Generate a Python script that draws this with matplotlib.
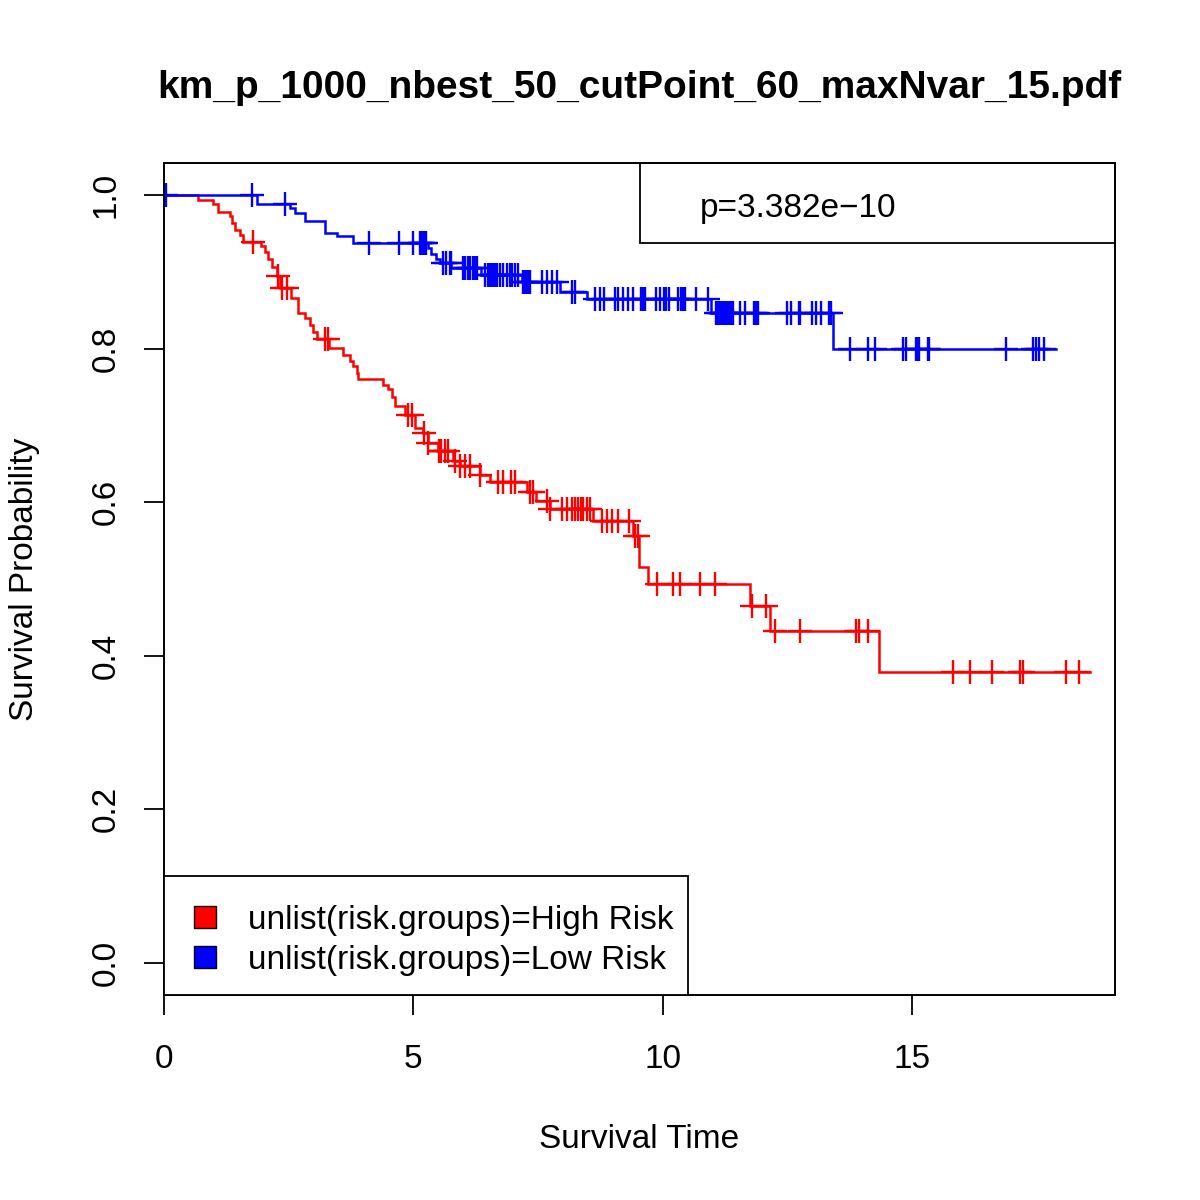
import numpy as np
import matplotlib
matplotlib.use("Agg")
import matplotlib.pyplot as plt
from matplotlib.patches import Rectangle

plt.rcParams['font.family'] = ['Liberation Sans', 'DejaVu Sans']

# ---------------- data ----------------
title = "km_p_1000_nbest_50_cutPoint_60_maxNvar_15.pdf"
p_text = "p=3.382e\u221210"
group_labels = ["unlist(risk.groups)=High Risk", "unlist(risk.groups)=Low Risk"]
group_colors = ["#FF0000", "#0000FF"]
x_label = "Survival Time"
y_label = "Survival Probability"
x_ticks = [0, 5, 10, 15]
y_ticks = [0.0, 0.2, 0.4, 0.6, 0.8, 1.0]
y_tick_labels = ["0.0", "0.2", "0.4", "0.6", "0.8", "1.0"]

# High risk group: event (drop) times and survival after each drop
high_event_times = [0.69, 0.99, 1.09, 1.32, 1.36, 1.42, 1.52, 1.59, 1.95, 2.02,
                    2.09, 2.16, 2.26, 2.32, 2.55, 2.69, 2.82, 2.92, 2.99, 3.06,
                    3.30, 3.59, 3.73, 3.79, 3.86, 3.89, 4.39, 4.49, 4.56, 4.63,
                    4.83, 5.03, 5.20, 5.29, 5.50, 5.80, 5.93, 6.33, 6.53, 7.27,
                    7.46, 7.73, 8.60, 9.40, 9.52, 9.70, 11.74, 12.14, 14.34]
high_surv = [0.994, 0.988, 0.978, 0.972, 0.963, 0.955, 0.948, 0.939, 0.933, 0.926,
             0.916, 0.906, 0.894, 0.879, 0.866, 0.846, 0.840, 0.831, 0.822, 0.812,
             0.801, 0.792, 0.784, 0.777, 0.768, 0.761, 0.753, 0.747, 0.737, 0.725,
             0.714, 0.697, 0.690, 0.677, 0.667, 0.654, 0.647, 0.635, 0.626, 0.613,
             0.602, 0.591, 0.576, 0.556, 0.515, 0.494, 0.465, 0.432, 0.379]
high_censor_times = [1.78, 2.29, 2.36, 2.47, 3.22, 3.29, 4.90, 4.97, 5.21, 5.30,
                     5.51, 5.53, 5.56, 5.63, 5.70, 5.83, 5.94, 6.03, 6.13, 6.34,
                     6.70, 6.80, 6.96, 7.03, 7.33, 7.40, 7.67, 7.74, 7.97, 8.07,
                     8.17, 8.23, 8.30, 8.36, 8.40, 8.47, 8.53, 8.78, 8.88, 8.98,
                     9.10, 9.32, 9.43, 9.50, 9.88, 10.20, 10.34, 10.75, 11.04, 11.79,
                     12.06, 12.24, 12.75, 13.87, 13.93, 14.11, 15.81, 16.15, 16.60, 17.15,
                     17.21, 18.08, 18.34]
high_end_time = 18.55

# Low risk group
low_event_times = [1.86, 2.52, 2.62, 2.83, 3.22, 3.46, 3.79, 5.30, 5.36, 5.46,
                   5.53, 5.76, 6.35, 7.17, 7.93, 8.47, 10.97, 13.41]
low_surv = [0.988, 0.983, 0.977, 0.966, 0.951, 0.946, 0.938, 0.931, 0.923, 0.916,
            0.911, 0.905, 0.896, 0.887, 0.874, 0.864, 0.846, 0.799]
low_censor_times = [0.04, 1.77, 2.43, 4.11, 4.71, 4.99, 5.13, 5.16, 5.19, 5.23,
                    5.26, 5.60, 5.66, 5.73, 5.75, 6.00, 6.03, 6.10, 6.13, 6.20,
                    6.23, 6.27, 6.43, 6.50, 6.53, 6.57, 6.60, 6.63, 6.67, 6.73,
                    6.80, 6.87, 6.93, 6.97, 7.03, 7.10, 7.20, 7.23, 7.27, 7.30,
                    7.33, 7.57, 7.67, 7.77, 7.87, 8.17, 8.23, 8.63, 8.73, 8.81,
                    9.03, 9.10, 9.19, 9.30, 9.40, 9.57, 9.60, 9.65, 9.87, 9.95,
                    10.02, 10.07, 10.12, 10.30, 10.36, 10.40, 10.44, 10.66, 10.90, 11.07,
                    11.10, 11.14, 11.17, 11.21, 11.24, 11.27, 11.30, 11.34, 11.37, 11.40,
                    11.54, 11.64, 11.82, 11.86, 11.91, 12.49, 12.57, 12.73, 12.75, 12.99,
                    13.07, 13.17, 13.33, 13.37, 13.74, 14.11, 14.24, 14.81, 14.88, 15.07,
                    15.11, 15.13, 15.31, 15.34, 16.87, 17.41, 17.48, 17.54, 17.64]
low_end_time = 17.88

# ---------------- figure ----------------
fig = plt.figure(figsize=(12, 12), dpi=100)
ax = fig.add_axes([164 / 1200, 1 - 995 / 1200, 951 / 1200, 832 / 1200])

groups = [
    (high_event_times, high_surv, high_censor_times, high_end_time, group_colors[0]),
    (low_event_times, low_surv, low_censor_times, low_end_time, group_colors[1]),
]
for ev_t, ev_s, cens_t, end_t, col in groups:
    ev_t = np.asarray(ev_t)
    ev_s = np.asarray(ev_s)
    t = np.concatenate([[0.0], ev_t, [end_t]])
    s = np.concatenate([[1.0], ev_s, [ev_s[-1]]])
    ax.step(t, s, where='post', color=col, lw=1.8, solid_joinstyle='miter')
    ct = np.asarray(cens_t)
    idx = np.searchsorted(ev_t, ct, side='right')
    cs = np.where(idx == 0, 1.0, ev_s[np.maximum(idx - 1, 0)])
    ax.plot(ct, cs, linestyle='none', marker='+', markersize=17,
            markeredgewidth=1.7, color=col)

ax.set_xlim(0, 19.06)
ax.set_ylim(-0.0416, 1.0416)
ax.set_xticks(x_ticks)
ax.set_xticklabels([str(v) for v in x_ticks])
ax.set_yticks(y_ticks)
ax.set_yticklabels(y_tick_labels, rotation=90, va='center')
ax.tick_params(axis='both', direction='out', length=14.4, width=1.3,
               labelsize=24, color='black')
ax.tick_params(axis='x', pad=21)
ax.tick_params(axis='y', pad=16)
for sp in ax.spines.values():
    sp.set_linewidth(1.4)
    sp.set_color('black')

ax.set_xlabel(x_label, fontsize=24)
ax.xaxis.set_label_coords(0.5, (995 - 1140) / 832)
ax.xaxis.label.set_verticalalignment('center')
ax.set_ylabel(y_label, fontsize=24)
ax.yaxis.set_label_coords((25 - 164) / 951, 0.5)
ax.yaxis.label.set_verticalalignment('center')

fig.text(639.5 / 1200, 1 - 88 / 1200, title, ha='center', va='center',
         fontsize=28, fontweight='bold')

# p-value box (top right)
ax.add_patch(Rectangle((0.5005, 0.9038), 0.4995, 0.0962, transform=ax.transAxes,
                       fill=False, edgecolor='black', lw=1.3, clip_on=False, zorder=5))
ax.text((700 - 164) / 951, (995 - 209) / 832, p_text, transform=ax.transAxes,
        ha='left', va='center', fontsize=24)

# group legend (bottom left)
ax.add_patch(Rectangle((0.0, 0.0), 0.551, 0.143, transform=ax.transAxes,
                       facecolor='white', edgecolor='black', lw=1.3, clip_on=False, zorder=5))
row_y = [(995 - 917) / 832, (995 - 957) / 832]
text_dy = -3 / 832
sq_w = 22 / 951
sq_h = 22 / 832
for lab, col, yy in zip(group_labels, group_colors, row_y):
    ax.add_patch(Rectangle(((205 - 164) / 951 - sq_w / 2, yy - sq_h / 2), sq_w, sq_h,
                           transform=ax.transAxes, facecolor=col, edgecolor='black',
                           lw=1.0, zorder=6))
    ax.text((248 - 164) / 951, yy + text_dy, lab, transform=ax.transAxes, ha='left',
            va='center', fontsize=24, zorder=6)

fig.savefig("out.png", dpi=100, facecolor='white')
